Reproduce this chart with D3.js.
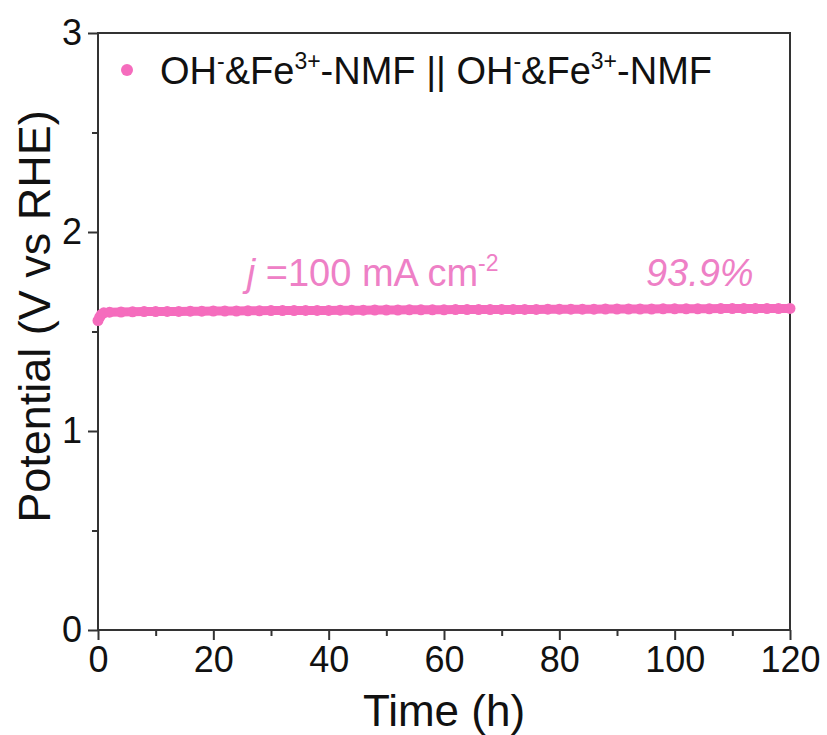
<!DOCTYPE html>
<meta charset="utf-8">
<style>
  body { margin: 0; background: #fff; }
  text { font-family: "Liberation Sans", Arial, sans-serif; }
</style>
<body>
  <div id="chart"></div>
  <script src="https://d3js.org/d3.v7.min.js"></script>
  <script>
    // time (h) and cell potential (V)
    var times = [0, 0.3, 0.6, 1, 2, 4, 6, 8, 10, 12, 14, 16, 18, 20, 22, 24, 26, 28, 30,
      32, 34, 36, 38, 40, 42, 44, 46, 48, 50, 52, 54, 56, 58, 60, 62, 64, 66, 68, 70,
      72, 74, 76, 78, 80, 82, 84, 86, 88, 90, 92, 94, 96, 98, 100, 102, 104, 106, 108,
      110, 112, 114, 116, 118, 120];
    var potential = [1.555, 1.572, 1.586, 1.594, 1.597, 1.598, 1.599, 1.600, 1.600, 1.601,
      1.601, 1.602, 1.602, 1.603, 1.603, 1.603, 1.604, 1.604, 1.605, 1.605, 1.605, 1.606,
      1.606, 1.606, 1.607, 1.607, 1.607, 1.608, 1.608, 1.608, 1.609, 1.609, 1.609, 1.609,
      1.610, 1.610, 1.610, 1.610, 1.611, 1.611, 1.611, 1.611, 1.612, 1.612, 1.612, 1.612,
      1.612, 1.613, 1.613, 1.613, 1.613, 1.613, 1.614, 1.614, 1.614, 1.614, 1.614, 1.615,
      1.615, 1.615, 1.615, 1.615, 1.615, 1.616];

    var xTicks = [0, 20, 40, 60, 80, 100, 120];
    var yTicks = [0, 1, 2, 3];
    var seriesName = ["OH", "-", "&Fe", "3+", "-NMF || OH", "-", "&Fe", "3+", "-NMF"];

    var pink = "#f56cbd";
    var textPink = "#ee80c6";
    var axisColor = "#333";

    var margin = { top: 33, right: 37, bottom: 105, left: 98 },
      width = 827 - margin.left - margin.right,
      height = 735 - margin.top - margin.bottom;

    var x = d3.scaleLinear().domain([0, 120]).range([0, width]);
    var y = d3.scaleLinear().domain([0, 3]).range([height, 0]);

    var svg = d3.select("#chart")
      .append("svg")
      .attr("width", 827)
      .attr("height", 735)
      .append("g")
      .attr("transform", "translate(" + margin.left + "," + margin.top + ")");

    // minor ticks
    svg.append("g")
      .attr("transform", "translate(0," + height + ")")
      .call(d3.axisBottom(x).tickValues(d3.range(10, 120, 20)).tickSize(6).tickFormat(""))
      .call(function(g) { g.select(".domain").remove(); })
      .selectAll("line").attr("stroke", axisColor).attr("stroke-width", 2);

    svg.append("g")
      .call(d3.axisLeft(y).tickValues([0.5, 1.5, 2.5]).tickSize(6).tickFormat(""))
      .call(function(g) { g.select(".domain").remove(); })
      .selectAll("line").attr("stroke", axisColor).attr("stroke-width", 2);

    // X axis
    var gx = svg.append("g")
      .attr("transform", "translate(0," + height + ")")
      .call(d3.axisBottom(x).tickValues(xTicks).tickSize(10).tickPadding(6));
    gx.select(".domain").remove();
    gx.selectAll("line").attr("stroke", axisColor).attr("stroke-width", 2);
    gx.selectAll("text").attr("font-size", 36).attr("fill", "#111")
      .style("font-family", "Liberation Sans, Arial, sans-serif");

    // Y axis
    var gy = svg.append("g")
      .call(d3.axisLeft(y).tickValues(yTicks).tickFormat(d3.format("d")).tickSize(10).tickPadding(6));
    gy.select(".domain").remove();
    gy.selectAll("line").attr("stroke", axisColor).attr("stroke-width", 2);
    gy.selectAll("text").attr("font-size", 36).attr("fill", "#111")
      .style("font-family", "Liberation Sans, Arial, sans-serif");

    // frame
    svg.append("rect")
      .attr("x", 0).attr("y", 0)
      .attr("width", width).attr("height", height)
      .attr("fill", "none")
      .attr("stroke", axisColor)
      .attr("stroke-width", 2);

    // data
    var pts = times.map(function(t, i) { return [t, potential[i]]; });

    svg.append("path")
      .datum(pts)
      .attr("fill", "none")
      .attr("stroke", pink)
      .attr("stroke-width", 9)
      .attr("d", d3.line()
        .x(function(d) { return x(d[0]); })
        .y(function(d) { return y(d[1]); }));

    svg.selectAll(".dot")
      .data(pts)
      .enter()
      .append("circle")
      .attr("class", "dot")
      .attr("cx", function(d) { return x(d[0]); })
      .attr("cy", function(d) { return y(d[1]); })
      .attr("r", 5.5)
      .attr("fill", pink);

    // legend
    svg.append("circle")
      .attr("cx", 29).attr("cy", 37).attr("r", 6)
      .attr("fill", pink);

    var leg = svg.append("text")
      .attr("x", 62).attr("y", 51)
      .attr("font-size", 38)
      .attr("fill", "#111");
    seriesName.forEach(function(s, i) {
      var sup = (i % 2 === 1);
      leg.append("tspan")
        .attr("font-size", sup ? 23 : 38)
        .attr("dy", i === 0 ? 0 : (sup ? -15 : 15))
        .text(s);
    });

    // annotations
    var ann = svg.append("text")
      .attr("x", x(25.8)).attr("y", y(1.6) - 26)
      .attr("font-size", 38)
      .attr("fill", textPink);
    ann.append("tspan").attr("font-style", "italic").text("j");
    ann.append("tspan").text(" =100 mA cm");
    ann.append("tspan").attr("font-size", 23).attr("dy", -15).text("-2");

    svg.append("text")
      .attr("x", x(113.7)).attr("y", y(1.6) - 26)
      .attr("text-anchor", "end")
      .attr("font-size", 38)
      .attr("font-style", "italic")
      .attr("fill", textPink)
      .text("93.9%");

    // axis titles
    svg.append("text")
      .attr("x", width / 2)
      .attr("y", height + 96)
      .attr("text-anchor", "middle")
      .attr("font-size", 44)
      .attr("fill", "#111")
      .text("Time (h)");

    svg.append("text")
      .attr("transform", "translate(" + (-48) + "," + (height / 2 - 15) + ") rotate(-90)")
      .attr("text-anchor", "middle")
      .attr("font-size", 45)
      .attr("fill", "#111")
      .text("Potential (V vs RHE)");
  </script>
</body>
